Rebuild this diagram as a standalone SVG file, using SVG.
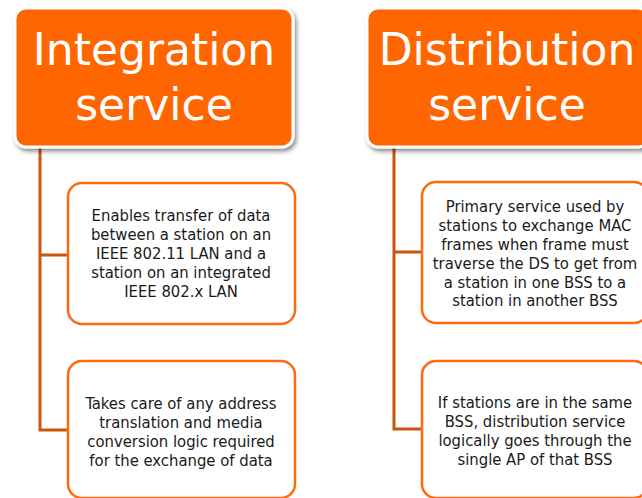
<svg xmlns="http://www.w3.org/2000/svg" width="642" height="498" viewBox="0 0 642 498">
<defs>
<filter id="sh" x="-10%" y="-10%" width="130%" height="130%">
<feGaussianBlur in="SourceAlpha" stdDeviation="2"/>
<feOffset dx="2" dy="3"/>
<feComponentTransfer><feFuncA type="linear" slope="0.45"/></feComponentTransfer>
<feMerge><feMergeNode/><feMergeNode in="SourceGraphic"/></feMerge>
</filter>
<style>
.hdr{fill:#FF6600;stroke:#FFFFFF;stroke-width:3;filter:url(#sh)}
.ht{font-family:"DejaVu Sans",sans-serif;font-size:44px;fill:#FFFFFF;text-anchor:middle}
.box{fill:#FFFFFF;stroke:#FF6A10;stroke-width:2.5}
.bt{font-family:"DejaVu Sans Condensed","DejaVu Sans",sans-serif;font-stretch:condensed;font-size:16.5px;fill:#1a1a1a;text-anchor:middle}
.con{fill:none;stroke:#C9560E;stroke-width:3}
</style>
</defs>
<rect width="642" height="498" fill="#FFFFFF"/>
<g id="connectors">
<path class="con" d="M40,147 V430 H68 M40,255 H68"/>
<path class="con" d="M394,147 V429 H422 M394,252 H422"/>
</g>
<g id="integration">
<rect class="hdr" x="15" y="8" width="278" height="139" rx="11"/>
<text class="ht" x="154" y="65">Integration</text>
<text class="ht" x="154" y="120">service</text>
</g>
<g id="distribution">
<rect class="hdr" x="367" y="8" width="282" height="139" rx="11"/>
<text class="ht" x="507" y="65">Distribution</text>
<text class="ht" x="507" y="120">service</text>
</g>
<g id="int-1">
<rect class="box" x="68" y="183" width="227" height="141" rx="14"/>
<text class="bt" x="181"><tspan x="181" y="221">Enables transfer of data</tspan><tspan x="181" y="240">between a station on an</tspan><tspan x="181" y="259">IEEE 802.11 LAN and a</tspan><tspan x="181" y="278">station on an integrated</tspan><tspan x="181" y="297">IEEE 802.x LAN</tspan></text>
</g>
<g id="int-2">
<rect class="box" x="68" y="361" width="227" height="137" rx="14"/>
<text class="bt" x="181"><tspan x="181" y="409">Takes care of any address</tspan><tspan x="181" y="428">translation and media</tspan><tspan x="181" y="447">conversion logic required</tspan><tspan x="181" y="466">for the exchange of data</tspan></text>
</g>
<g id="dist-1">
<rect class="box" x="422" y="182" width="226" height="141" rx="14"/>
<text class="bt" x="535"><tspan x="535" y="212">Primary service used by</tspan><tspan x="535" y="231">stations to exchange MAC</tspan><tspan x="535" y="250">frames when frame must</tspan><tspan x="535" y="269">traverse the DS to get from</tspan><tspan x="535" y="288">a station in one BSS to a</tspan><tspan x="535" y="306">station in another BSS</tspan></text>
</g>
<g id="dist-2">
<rect class="box" x="422" y="361" width="226" height="137" rx="14"/>
<text class="bt" x="535"><tspan x="535" y="408">If stations are in the same</tspan><tspan x="535" y="427">BSS, distribution service</tspan><tspan x="535" y="446">logically goes through the</tspan><tspan x="535" y="465">single AP of that BSS</tspan></text>
</g>
</svg>
